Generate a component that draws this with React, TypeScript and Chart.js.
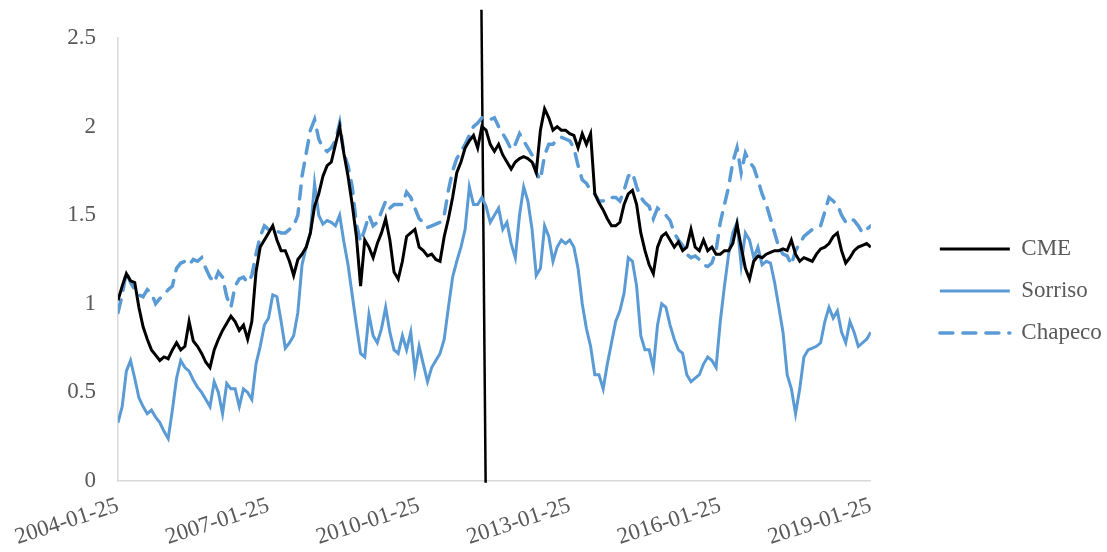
import { useEffect, useRef } from "react";
import { Chart, registerables } from "chart.js";

Chart.register(...registerables);

const tickLabels = ["2004-01-25", "2007-01-25", "2010-01-25", "2013-01-25", "2016-01-25", "2019-01-25"];

// monthly readings, 2004-01 .. 2019-01
const cme = [
  1.02, 1.10, 1.17, 1.13, 1.12, 0.98, 0.87, 0.80, 0.74, 0.71,
  0.68, 0.70, 0.69, 0.74, 0.78, 0.74, 0.76, 0.90, 0.79, 0.76,
  0.72, 0.67, 0.64, 0.74, 0.80, 0.85, 0.89, 0.93, 0.90, 0.85,
  0.88, 0.80, 0.90, 1.18, 1.32, 1.36, 1.40, 1.44, 1.36, 1.30,
  1.30, 1.24, 1.16, 1.25, 1.28, 1.32, 1.40, 1.55, 1.62, 1.72,
  1.78, 1.80, 1.90, 2.00, 1.85, 1.72, 1.56, 1.38, 1.10, 1.36,
  1.32, 1.26, 1.34, 1.40, 1.48, 1.36, 1.18, 1.14, 1.24, 1.38,
  1.40, 1.42, 1.32, 1.30, 1.27, 1.28, 1.25, 1.24, 1.38, 1.48,
  1.60, 1.74, 1.80, 1.88, 1.92, 1.95, 1.88, 2.00, 1.98, 1.90,
  1.86, 1.90, 1.84, 1.80, 1.76, 1.80, 1.82, 1.83, 1.82, 1.80,
  1.74, 1.98, 2.10, 2.05, 1.98, 2.00, 1.98, 1.98, 1.96, 1.95,
  1.88, 1.96, 1.90, 1.96, 1.62, 1.57, 1.53, 1.48, 1.44, 1.44,
  1.46, 1.56, 1.62, 1.64, 1.56, 1.40, 1.30, 1.22, 1.17, 1.32,
  1.38, 1.40, 1.36, 1.32, 1.35, 1.30, 1.32, 1.42, 1.32, 1.30,
  1.36, 1.30, 1.32, 1.28, 1.28, 1.30, 1.30, 1.34, 1.45, 1.32,
  1.20, 1.14, 1.24, 1.27, 1.26, 1.28, 1.29, 1.30, 1.30, 1.31,
  1.30, 1.36, 1.28, 1.24, 1.26, 1.25, 1.24, 1.28, 1.31, 1.32,
  1.34, 1.38, 1.40, 1.30, 1.23, 1.26, 1.30, 1.32, 1.33, 1.34, 1.32,
];

const sorriso = [
  0.33, 0.42, 0.62, 0.68, 0.58, 0.47, 0.42, 0.38, 0.40, 0.36,
  0.33, 0.28, 0.24, 0.40, 0.58, 0.68, 0.64, 0.62, 0.57, 0.53,
  0.50, 0.46, 0.42, 0.56, 0.50, 0.38, 0.55, 0.52, 0.52, 0.42,
  0.52, 0.50, 0.46, 0.66, 0.76, 0.88, 0.92, 1.05, 1.04, 0.90,
  0.75, 0.78, 0.82, 0.95, 1.22, 1.32, 1.40, 1.68, 1.50, 1.45,
  1.47, 1.46, 1.44, 1.50, 1.35, 1.22, 1.05, 0.88, 0.72, 0.70,
  0.94, 0.82, 0.78, 0.86, 0.98, 0.84, 0.74, 0.72, 0.82, 0.74,
  0.84, 0.62, 0.76, 0.66, 0.56, 0.64, 0.68, 0.72, 0.80, 0.98,
  1.15, 1.24, 1.32, 1.42, 1.66, 1.56, 1.56, 1.60, 1.55, 1.46,
  1.50, 1.54, 1.42, 1.46, 1.34, 1.26, 1.50, 1.66, 1.58, 1.42,
  1.16, 1.20, 1.44, 1.38, 1.24, 1.32, 1.36, 1.34, 1.36, 1.32,
  1.20, 1.00, 0.86, 0.76, 0.60, 0.60, 0.52, 0.66, 0.78, 0.90,
  0.96, 1.06, 1.26, 1.24, 1.10, 0.82, 0.74, 0.74, 0.64, 0.88,
  1.00, 0.98, 0.88, 0.80, 0.74, 0.72, 0.60, 0.56, 0.58, 0.60,
  0.66, 0.70, 0.68, 0.64, 0.90, 1.10, 1.28, 1.40, 1.46, 1.22,
  1.40, 1.36, 1.26, 1.32, 1.22, 1.24, 1.23, 1.12, 0.98, 0.84,
  0.60, 0.52, 0.38, 0.52, 0.70, 0.74, 0.75, 0.76, 0.78, 0.90,
  0.98, 0.92, 0.96, 0.84, 0.78, 0.90, 0.84, 0.76, 0.78, 0.80, 0.84,
];

const chapeco = [
  0.95, 1.05, 1.18, 1.12, 1.08, 1.05, 1.04, 1.08, 1.06, 1.00,
  1.03, 1.05, 1.08, 1.10, 1.20, 1.23, 1.24, 1.22, 1.25, 1.24,
  1.26, 1.20, 1.15, 1.12, 1.18, 1.15, 1.04, 0.98, 1.10, 1.14,
  1.15, 1.12, 1.16, 1.28, 1.38, 1.44, 1.42, 1.42, 1.41, 1.40,
  1.40, 1.42, 1.44, 1.50, 1.72, 1.85, 1.98, 2.04, 1.93, 1.88,
  1.86, 1.88, 1.92, 2.02, 1.85, 1.78, 1.66, 1.45, 1.35, 1.42,
  1.50, 1.44, 1.46, 1.52, 1.58, 1.54, 1.56, 1.56, 1.56, 1.63,
  1.60, 1.54, 1.48, 1.46, 1.43, 1.44, 1.45, 1.46, 1.50, 1.64,
  1.75, 1.82, 1.86, 1.90, 1.95, 2.00, 2.02, 2.05, 2.04, 2.04,
  2.05, 2.00, 1.96, 1.92, 1.87, 1.90, 1.96, 1.92, 1.88, 1.84,
  1.74, 1.70, 1.84, 1.90, 1.90, 1.93, 1.94, 1.93, 1.92, 1.88,
  1.78, 1.70, 1.68, 1.64, 1.62, 1.58, 1.58, 1.60, 1.60, 1.60,
  1.58, 1.64, 1.72, 1.74, 1.66, 1.60, 1.57, 1.55, 1.48, 1.54,
  1.52, 1.50, 1.47, 1.40, 1.36, 1.33, 1.28, 1.26, 1.27, 1.25,
  1.22, 1.21, 1.23, 1.30, 1.46, 1.56, 1.66, 1.80, 1.88, 1.74,
  1.85, 1.80, 1.77, 1.70, 1.62, 1.56, 1.48, 1.40, 1.32, 1.28,
  1.27, 1.22, 1.30, 1.34, 1.38, 1.40, 1.42, 1.43, 1.44, 1.52,
  1.60, 1.58, 1.56, 1.50, 1.46, 1.48, 1.47, 1.44, 1.40, 1.42, 1.44,
];

// vertical marker line (month index, value)
const markerX = [86.9, 87.9];
const markerY = [2.66, -0.01];

const FONT = "'Liberation Serif', 'Times New Roman', serif";
const TEXT = "#595959";
const AXIS = "#d9d9d9";
const BLUE = "#5B9BD5";

export default function App() {
  const ref = useRef<HTMLCanvasElement>(null);

  useEffect(() => {
    const toPts = (arr: number[]) => arr.map((y, i) => ({ x: i, y }));
    const defaultLabels = (Chart as any).defaults.plugins.legend.labels.generateLabels;
    const chart = new Chart(ref.current as HTMLCanvasElement, {
      type: "line",
      data: {
        datasets: [
          {
            label: "CME",
            data: toPts(cme),
            borderColor: "#000000",
            backgroundColor: "#000000",
            borderWidth: 3,
            pointRadius: 0,
            tension: 0,
          },
          {
            label: "Sorriso",
            data: toPts(sorriso),
            borderColor: BLUE,
            backgroundColor: BLUE,
            borderWidth: 3,
            pointRadius: 0,
            tension: 0,
          },
          {
            label: "Chapeco",
            data: toPts(chapeco),
            borderColor: BLUE,
            backgroundColor: BLUE,
            borderWidth: 3.5,
            borderDash: [13, 10],
            borderCapStyle: "round",
            pointRadius: 0,
            tension: 0,
          },
          {
            label: "marker",
            data: markerX.map((x, i) => ({ x, y: markerY[i] })),
            borderColor: "#000000",
            backgroundColor: "#000000",
            borderWidth: 2.5,
            pointRadius: 0,
            clip: false,
          },
        ],
      } as any,
      options: {
        animation: false,
        responsive: false,
        devicePixelRatio: 1,
        layout: { padding: { top: 38, right: 2, bottom: 8, left: 0 } },
        font: { family: FONT },
        scales: {
          x: {
            type: "linear",
            min: 0,
            max: 180,
            grid: { display: false, drawTicks: false },
            border: { display: true, color: AXIS, width: 1.5 },
            ticks: {
              stepSize: 36,
              autoSkip: false,
              maxRotation: 18,
              minRotation: 18,
              padding: 11,
              color: TEXT,
              font: { family: FONT, size: 23 },
              callback: (_v: any, i: number) => tickLabels[i],
            },
            afterFit: (s: any) => {
              s.height = 63;
            },
          },
          y: {
            min: 0,
            max: 2.5,
            grid: { display: false, drawTicks: false },
            border: { display: true, color: AXIS, width: 1.5 },
            ticks: {
              stepSize: 0.5,
              padding: 22,
              color: TEXT,
              font: { family: FONT, size: 23 },
              callback: (v: any) => String(v),
            },
            afterFit: (s: any) => {
              s.width = 118;
            },
          },
          yR: {
            position: "right",
            min: 0,
            max: 1,
            display: true,
            grid: { display: false, drawTicks: false },
            border: { display: false },
            ticks: { display: false },
            afterFit: (s: any) => {
              s.width = 50;
            },
          },
        },
        plugins: {
          legend: {
            position: "right",
            labels: {
              usePointStyle: true,
              pointStyle: "line",
              pointStyleWidth: 70,
              padding: 19,
              color: TEXT,
              font: { family: FONT, size: 23 },
              filter: (item: any) => item.text !== "marker",
              generateLabels: (c: any) =>
                defaultLabels(c).map((item: any) => {
                  const ds = c.data.datasets[item.datasetIndex];
                  return {
                    ...item,
                    strokeStyle: ds.borderColor,
                    lineWidth: ds.borderWidth,
                    lineDash: ds.borderDash || [],
                    lineCap: ds.borderCapStyle || "butt",
                    pointStyle: "line",
                  };
                }),
            },
          },
          tooltip: { enabled: false },
        },
      } as any,
    });
    return () => chart.destroy();
  }, []);

  return (
    <div style={{ position: "absolute", left: 0, top: 0, width: 1107, height: 552 }}>
      <canvas ref={ref} width={1107} height={552} />
    </div>
  );
}
